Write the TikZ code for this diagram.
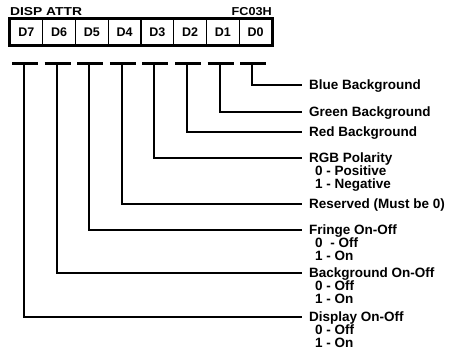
\documentclass[tikz,border=0pt]{standalone}
\usepackage{fontspec}
\setmainfont{Liberation Sans}
\begin{document}
\begin{tikzpicture}[x=1pt,y=-1pt,
  cell/.style={draw, line width=1.3pt, minimum width=32.75pt, minimum height=26pt, inner sep=0pt,
    font=\bfseries\fontsize{12.5}{13}\selectfont},
  frame/.style={draw, line width=2pt},
  lbl/.style={anchor=north west, inner sep=0pt, align=left,
    font=\bfseries\fontsize{13.5}{13}\selectfont},
  hdr/.style={inner sep=0pt, font=\bfseries\fontsize{11.5}{11.5}\selectfont},
  conn/.style={line width=2pt},
  teebar/.style={line width=3pt}]
\useasboundingbox (0,0) rectangle (456,359);
% header
\node[hdr, anchor=base west] (attr) at (10,15) {\scalebox{1.2}[1]{DISP ATTR}};
\node[hdr, anchor=base east] (addr) at (272,15) {\scalebox{1.1}[1]{FC03H}};
% register cells
\node[cell] (c7) at (26.375,32) {D7};
\node[cell] (c6) at (59.125,32) {D6};
\node[cell] (c5) at (91.875,32) {D5};
\node[cell] (c4) at (124.625,32) {D4};
\node[cell] (c3) at (157.375,32) {D3};
\node[cell] (c2) at (190.125,32) {D2};
\node[cell] (c1) at (222.875,32) {D1};
\node[cell] (c0) at (255.625,32) {D0};
\draw[frame] (c7.north west) rectangle (c0.south east);
% tee tops
\coordinate (t7) at (24,63);
\coordinate (t6) at (56.6,63);
\coordinate (t5) at (89.2,63);
\coordinate (t4) at (121.8,63);
\coordinate (t3) at (154.4,63);
\coordinate (t2) at (187,63);
\coordinate (t1) at (219.6,63);
\coordinate (t0) at (252.2,63);
\foreach \t in {t7,t6,t5,t4,t3,t2,t1,t0}
  \draw[teebar] ([xshift=-12pt]\t) -- ([xshift=14pt]\t);
% connector ends
\coordinate (e0) at (302,85);
\coordinate (e1) at (302,111.5);
\coordinate (e2) at (302,132);
\coordinate (e3) at (302,157.5);
\coordinate (e4) at (302,203.5);
\coordinate (e5) at (302,230);
\coordinate (e6) at (302,273);
\coordinate (e7) at (302,317);
\foreach \i in {0,...,7}
  \draw[conn] (t\i) |- (e\i);
% labels
\node[lbl] (l0) at ([shift={(7pt,5pt)}]e0) {Blue Background};
\node[lbl] (l1) at ([shift={(7pt,5pt)}]e1) {Green Background};
\node[lbl] (l2) at ([shift={(7pt,5pt)}]e2) {Red Background};
\node[lbl] (l3) at ([shift={(7pt,5pt)}]e3) {RGB Polarity\\\hspace*{6pt}0 - Positive\\\hspace*{6pt}1 - Negative};
\node[lbl] (l4) at ([shift={(7pt,5pt)}]e4) {Reserved (Must be 0)};
\node[lbl] (l5) at ([shift={(7pt,5pt)}]e5) {Fringe On-Off\\\hspace*{6pt}0\hspace{4pt} - Off\\\hspace*{6pt}1 - On};
\node[lbl] (l6) at ([shift={(7pt,5pt)}]e6) {Background On-Off\\\hspace*{6pt}0 - Off\\\hspace*{6pt}1 - On};
\node[lbl] (l7) at ([shift={(7pt,5pt)}]e7) {Display On-Off\\\hspace*{6pt}0 - Off\\\hspace*{6pt}1 - On};
\end{tikzpicture}
\end{document}
